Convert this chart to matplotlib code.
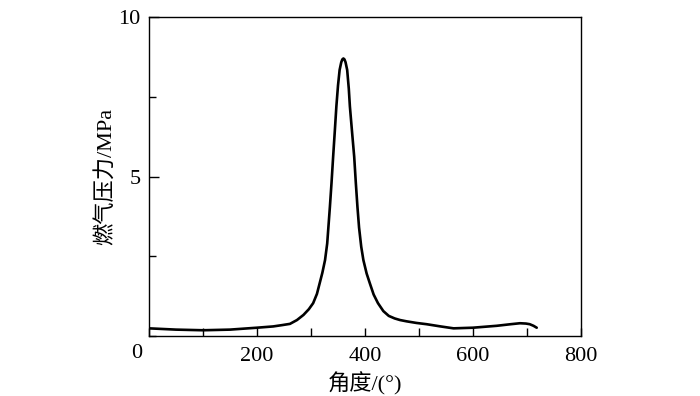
import numpy as np
import matplotlib
matplotlib.use("Agg")
import matplotlib.pyplot as plt
from matplotlib.ticker import MultipleLocator, FuncFormatter
import matplotlib.transforms as mtransforms

plt.rcParams['font.family'] = ['Liberation Serif', 'Noto Sans CJK SC']

# crank angle (deg) and gas pressure (MPa)
angle = [0, 50, 100, 150, 200, 230, 246, 261, 274, 286, 296, 304, 311, 316, 321, 326, 330,
         335, 338, 341, 344, 347, 350, 353, 356, 358, 360, 362, 364, 367, 370, 372, 376, 380,
         383, 386, 389, 393, 397, 403, 409, 416, 424, 434, 444, 455, 465, 477, 495, 514, 540,
         564, 600, 644, 670, 687, 698, 705, 712, 718]
pressure = [0.24, 0.20, 0.18, 0.20, 0.26, 0.30, 0.34, 0.38, 0.50, 0.66, 0.84, 1.03, 1.32, 1.65,
            1.98, 2.38, 2.90, 4.05, 4.80, 5.62, 6.40, 7.20, 7.85, 8.34, 8.58, 8.67, 8.70, 8.67,
            8.58, 8.34, 7.75, 7.20, 6.40, 5.62, 4.80, 4.05, 3.40, 2.80, 2.38, 1.96, 1.65, 1.30,
            1.03, 0.78, 0.63, 0.55, 0.50, 0.46, 0.41, 0.37, 0.30, 0.24, 0.26, 0.32, 0.37, 0.40,
            0.39, 0.37, 0.32, 0.26]

fig = plt.figure(figsize=(7, 3.96), dpi=100)
ax = fig.add_axes([149/700, 1 - 336/396, (581 - 149)/700, (336 - 17)/396])

ax.plot(angle, pressure, color='black', lw=1.9, solid_joinstyle='round', solid_capstyle='round')

ax.set_xlim(0, 800)
ax.set_ylim(0, 10)
ax.xaxis.set_major_locator(MultipleLocator(200))
ax.xaxis.set_minor_locator(MultipleLocator(100))
ax.xaxis.set_major_formatter(FuncFormatter(lambda v, p: '' if v == 0 else '%d' % v))
ax.set_yticks([5, 10])
ax.yaxis.set_minor_locator(MultipleLocator(2.5))
ax.tick_params(which='both', direction='in', top=False, right=False,
               labelsize=16, width=1, pad=6)
ax.tick_params(axis='x', which='major', pad=8)
ax.tick_params(axis='y', which='major', length=7)
ax.tick_params(axis='y', which='minor', length=5)
ax.tick_params(axis='x', which='both', length=6)

for s in ax.spines.values():
    s.set_linewidth(1.0)

# the "0" at the corner sits a little left of the axis, like the original
off = mtransforms.ScaledTranslation(-12/100, -8/100, fig.dpi_scale_trans)
ax.text(0, 0, '0', fontsize=16, ha='center', va='top',
        transform=ax.get_xaxis_transform() + off)

ax.set_xlabel('角度/(°)', fontsize=16, labelpad=4)
ax.set_ylabel('燃气压力/MPa', fontsize=16, labelpad=2)

fig.savefig('out.png', dpi=100)
